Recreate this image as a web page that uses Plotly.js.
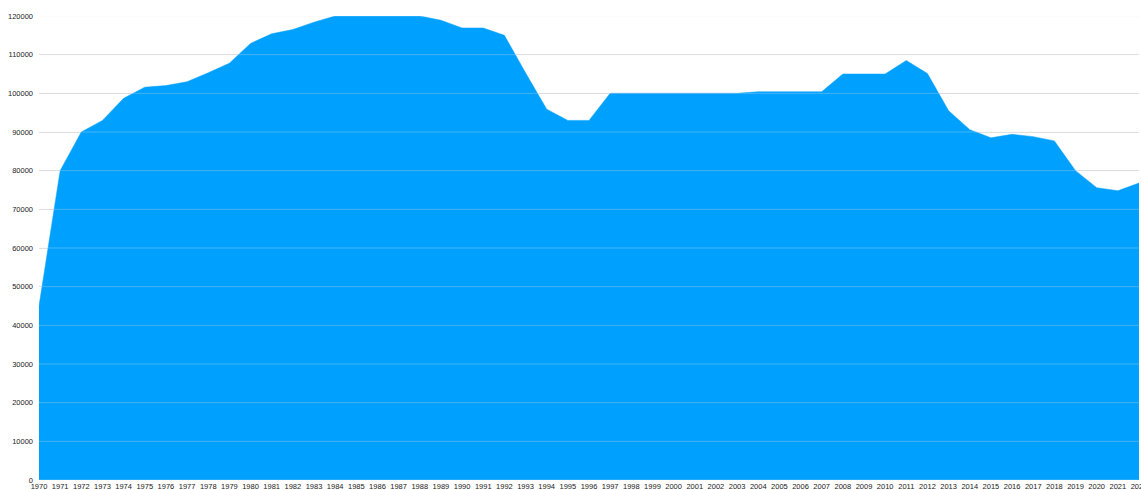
<!DOCTYPE html>
<html>
<head>
<meta charset="utf-8">
<script src="https://cdn.plot.ly/plotly-3.0.1.min.js"></script>
<style>html,body{margin:0;padding:0;background:#fff;}#chart{width:1141px;height:490px;}</style>
</head>
<body>
<div id="chart"></div>
<script>
const years = [1970,1971,1972,1973,1974,1975,1976,1977,1978,1979,1980,1981,1982,1983,1984,1985,1986,1987,1988,1989,1990,1991,1992,1993,1994,1995,1996,1997,1998,1999,2000,2001,2002,2003,2004,2005,2006,2007,2008,2009,2010,2011,2012,2013,2014,2015,2016,2017,2018,2019,2020,2021,2022];
const values = [45000,80000,90000,93000,98700,101600,102000,103000,105300,107800,112900,115400,116500,118400,120000,120000,120000,120000,120000,118900,116900,116900,115000,105300,95900,93000,93000,100000,100000,100000,100000,100000,100000,100000,100400,100400,100400,100400,105000,105000,105000,108500,105100,95500,90600,88500,89400,88800,87700,80000,75600,74800,76800];
const yTicks = [0,10000,20000,30000,40000,50000,60000,70000,80000,90000,100000,110000,120000];

const gridShapes = yTicks.map(v => ({
  type:'line', xref:'paper', yref:'y', x0:0, x1:1, y0:v, y1:v,
  line:{color:'rgba(225,225,225,0.3)', width:1}, layer:'above'
}));

const trace = {
  x: years, y: values, type:'scatter', mode:'lines',
  fill:'tozeroy', fillcolor:'#00a0ff',
  line:{color:'#00a0ff', width:0.5}, hoverinfo:'x+y'
};

const layout = {
  width:1141, height:490,
  margin:{l:39, r:2, t:16, b:10},
  paper_bgcolor:'#ffffff', plot_bgcolor:'#ffffff',
  showlegend:false,
  font:{family:'Liberation Sans, Arial, sans-serif', size:7.5, color:'#222'},
  xaxis:{
    range:[1970,2022], tickmode:'array', tickvals:years, ticktext:years.map(String),
    showgrid:false, zeroline:false, showline:false, ticks:'', tickangle:0,
    tickfont:{size:7.5, color:'#222'}, automargin:false, ticklabeloverflow:'allow'
  },
  yaxis:{
    range:[0,120000], tickmode:'array', tickvals:yTicks, ticktext:yTicks.map(String),
    showgrid:true, gridcolor:'#dedede', gridwidth:1, zeroline:false, showline:false,
    ticks:'', tickfont:{size:7.5, color:'#222'}, automargin:false, ticklabelstandoff:5
  },
  shapes: gridShapes
};

Plotly.newPlot('chart', [trace], layout, {displayModeBar:false, staticPlot:true});
</script>
</body>
</html>
